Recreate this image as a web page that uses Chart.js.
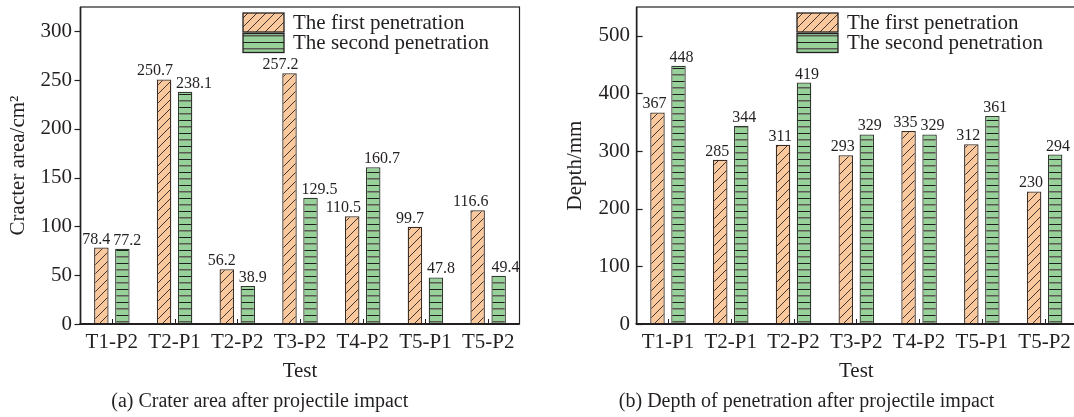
<!DOCTYPE html>
<html>
<head>
<meta charset="utf-8">
<script src="https://cdn.jsdelivr.net/npm/chart.js@4.4.1/dist/chart.umd.min.js"></script>
<style>
  html, body { margin: 0; padding: 0; background: #fff; overflow: hidden; width: 1074px; height: 417px; }
  #wrapA { position: absolute; left: 0; top: 0; width: 537px; height: 417px; }
  #wrapB { position: absolute; left: 537px; top: 0; width: 545px; height: 417px; }
</style>
</head>
<body>
<div id="wrapA"><canvas id="chartArea"></canvas></div>
<div id="wrapB"><canvas id="chartDepth"></canvas></div>
<script>
const seriesNames = ['The first penetration', 'The second penetration'];

// (a) crater area
const testsA = ['T1-P2', 'T2-P1', 'T2-P2', 'T3-P2', 'T4-P2', 'T5-P1', 'T5-P2'];
const areaFirst = [78.4, 250.7, 56.2, 257.2, 110.5, 99.7, 116.6];
const areaSecond = [77.2, 238.1, 38.9, 129.5, 160.7, 47.8, 49.4];
const areaTicks = [0, 50, 100, 150, 200, 250, 300];

// (b) depth of penetration
const testsB = ['T1-P1', 'T2-P1', 'T2-P2', 'T3-P2', 'T4-P2', 'T5-P1', 'T5-P2'];
const depthFirst = [367, 285, 311, 293, 335, 312, 230];
const depthSecond = [448, 344, 419, 329, 329, 361, 294];
const depthTicks = [0, 100, 200, 300, 400, 500];

const INK = '#231f20';
const ORANGE = '#f9c89c';
const GREEN = '#97d199';
const SERIF = '"Liberation Serif", "Times New Roman", serif';

Chart.defaults.font.family = SERIF;
Chart.defaults.color = INK;

// hatch fills
const diagHatch = (() => {
  const c = document.createElement('canvas'); c.width = 9; c.height = 9;
  const g = c.getContext('2d');
  g.fillStyle = ORANGE; g.fillRect(0, 0, 9, 9);
  g.strokeStyle = '#2a2220'; g.lineWidth = 0.9;
  g.beginPath();
  g.moveTo(-1, 10); g.lineTo(10, -1);
  g.moveTo(-1, 1); g.lineTo(1, -1);
  g.moveTo(8, 10); g.lineTo(10, 8);
  g.stroke();
  return g.createPattern(c, 'repeat');
})();

const lineHatch = (() => {
  const c = document.createElement('canvas'); c.width = 4; c.height = 13;
  const g = c.getContext('2d');
  g.fillStyle = GREEN; g.fillRect(0, 0, 4, 13);
  g.fillStyle = '#1e1e1e'; g.fillRect(0, 3, 4, 1);
  g.fillStyle = '#5a5a52'; g.fillRect(0, 9, 4, 1.5);
  return g.createPattern(c, 'repeat');
})();

// frame, inner ticks, value labels and legend
const decor = {
  id: 'decor',
  afterDatasetsDraw(chart, args, opts) {
    const { ctx, chartArea: a, scales: { x, y } } = chart;
    ctx.save();

    // value labels, pushed apart when they would touch
    ctx.font = '16px ' + SERIF;
    ctx.fillStyle = INK; ctx.textAlign = 'center'; ctx.textBaseline = 'alphabetic';
    const m0 = chart.getDatasetMeta(0), m1 = chart.getDatasetMeta(1);
    m0.data.forEach((b0, i) => {
      const b1 = m1.data[i];
      const t0 = String(chart.data.datasets[0].data[i]);
      const t1 = String(chart.data.datasets[1].data[i]);
      const w0 = ctx.measureText(t0).width, w1 = ctx.measureText(t1).width;
      let x0 = b0.x, x1 = b1.x;
      const need = (w0 + w1) / 2 + 3;
      if (x1 - x0 < need) { const d = (need - (x1 - x0)) / 2; x0 -= d; x1 += d; }
      ctx.fillText(t0, x0, b0.y - 4);
      ctx.fillText(t1, x1, b1.y - 4);
    });

    // box
    ctx.strokeStyle = INK;
    ctx.lineWidth = 1.2;
    ctx.strokeRect(a.left, a.top, a.width, a.height);
    ctx.lineWidth = 1.6;
    ctx.beginPath(); ctx.moveTo(a.left, a.top); ctx.lineTo(a.left, a.bottom); ctx.stroke();
    ctx.lineWidth = 2.2;
    ctx.beginPath(); ctx.moveTo(a.left - 1, a.bottom); ctx.lineTo(a.right, a.bottom); ctx.stroke();

    // y ticks
    ctx.lineWidth = 1.2;
    y.ticks.forEach(t => {
      const py = Math.round(y.getPixelForValue(t.value)) + 0.5;
      ctx.beginPath(); ctx.moveTo(a.left, py); ctx.lineTo(a.left + opts.tickDir * 6, py); ctx.stroke();
    });
    // x ticks, inward between the bars
    ctx.lineWidth = 1;
    chart.data.labels.forEach((l, i) => {
      const px = Math.round(x.getPixelForValue(i)) + 0.5;
      ctx.beginPath(); ctx.moveTo(px, a.bottom); ctx.lineTo(px, a.bottom - 5); ctx.stroke();
    });

    // legend
    const lx = a.left + opts.legendX;
    ctx.font = '21px ' + SERIF;
    ctx.textAlign = 'left'; ctx.textBaseline = 'middle';
    chart.data.datasets.forEach((ds, k) => {
      const ty = 13 + k * 20.5;
      ctx.fillStyle = ds.backgroundColor;
      ctx.fillRect(lx, ty, 41, 19);
      ctx.lineWidth = 1.3; ctx.strokeStyle = INK;
      ctx.strokeRect(lx, ty, 41, 19);
      ctx.fillStyle = INK;
      ctx.fillText(ds.label, lx + 50, ty + 10);
    });
    ctx.restore();
  }
};

function makeChart(id, labels, first, second, yMax, yTicks, yTitle, caption, yWidth, yTitlePad, yTickPad, padRight, tickDir, legendX) {
  return new Chart(document.getElementById(id), {
    type: 'bar',
    data: {
      labels: labels,
      datasets: [
        { label: seriesNames[0], data: first, backgroundColor: diagHatch, borderColor: '#3b2c24', borderWidth: 1.3, categoryPercentage: 0.67, barPercentage: 0.69 },
        { label: seriesNames[1], data: second, backgroundColor: lineHatch, borderColor: '#2f3a2f', borderWidth: 1.3, categoryPercentage: 0.67, barPercentage: 0.69 }
      ]
    },
    options: {
      responsive: true, maintainAspectRatio: false, animation: false,
      layout: { padding: { top: 7, right: padRight, left: 0, bottom: 0 } },
      plugins: {
        legend: { display: false },
        tooltip: { enabled: false },
        title: { display: true, position: 'bottom', text: caption, color: INK, font: { size: 20, weight: 'normal' }, padding: { top: 0, bottom: 3 } },
        decor: { tickDir: tickDir, legendX: legendX }
      },
      scales: {
        x: {
          offset: true,
          grid: { display: false, drawTicks: false },
          border: { display: false },
          ticks: { color: INK, font: { size: 21 }, padding: 6, maxRotation: 0, autoSkip: false },
          title: { display: true, text: 'Test', color: INK, font: { size: 21 }, padding: { top: 0, bottom: 6 } },
          afterFit: s => { s.height = 66; s.paddingLeft = 0; s.paddingRight = 0; }
        },
        y: {
          min: 0, max: yMax,
          grid: { display: false, drawTicks: false },
          border: { display: false },
          ticks: { color: INK, font: { size: 21 }, padding: yTickPad },
          afterBuildTicks: s => { s.ticks = yTicks.map(v => ({ value: v })); },
          title: { display: true, text: yTitle, color: INK, font: { size: 21 }, padding: { top: yTitlePad, bottom: 0 } },
          afterFit: s => { s.width = yWidth; s.paddingTop = 0; s.paddingBottom = 0; }
        }
      }
    },
    plugins: [decor]
  });
}

makeChart('chartArea', testsA, areaFirst, areaSecond, 325, areaTicks, 'Cracter area/cm²',
  '(a) Crater area after projectile impact', 80.5, 5.4, 8.5, 17.5, -1, 162.5);
makeChart('chartDepth', testsB, depthFirst, depthSecond, 550, depthTicks, 'Depth/mm',
  '(b) Depth of penetration after projectile impact', 99.6, 25.4, 6.6, 6, 1, 160.4);
</script>
</body>
</html>
